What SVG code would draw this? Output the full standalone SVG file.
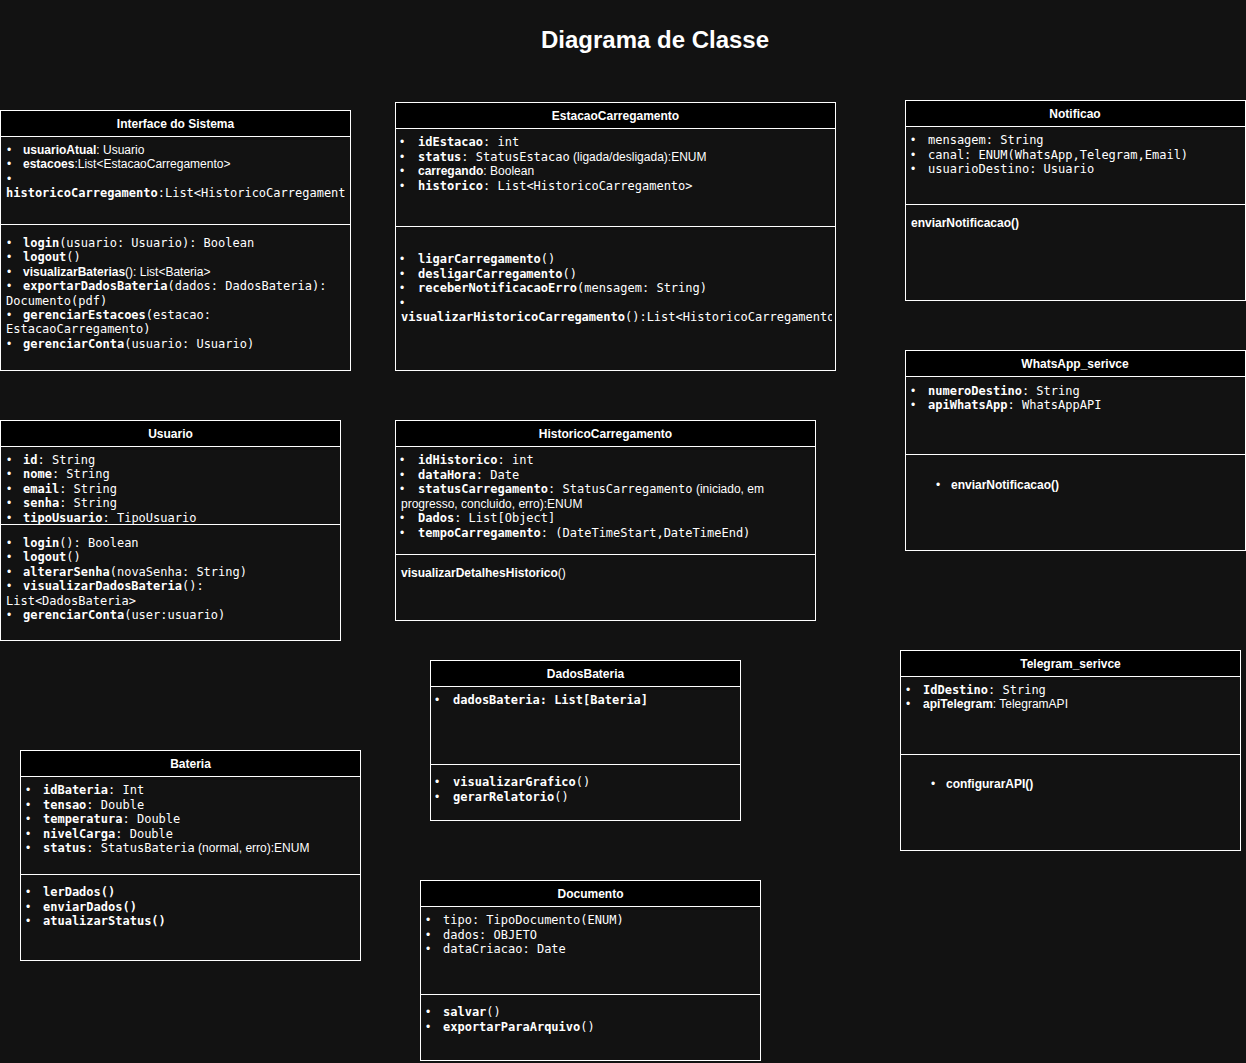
<svg xmlns="http://www.w3.org/2000/svg" width="1246" height="1063" viewBox="0 0 1246 1063">
<style>
.bg{fill:#121212}
.box{fill:#121212;stroke:#ffffff;stroke-width:1}
.hdr{fill:#000000;stroke:#ffffff;stroke-width:1}
.ln{stroke:#ffffff;stroke-width:1}
text{font-family:"Liberation Sans",Arial,sans-serif;font-size:12px;fill:#ffffff}
.m{font-family:"DejaVu Sans Mono","Liberation Mono",monospace}
.b{font-weight:bold}
.h{font-weight:bold;text-anchor:middle}
.title{font-size:24px;font-weight:bold;text-anchor:middle}
</style>
<defs>
<clipPath id="clipIface"><rect x="1" y="136" width="344" height="87"/></clipPath>
<clipPath id="clipEst"><rect x="396" y="226" width="436" height="143"/></clipPath>
</defs>
<rect class="bg" x="0" y="0" width="1246" height="1063"/>
<text class="title" x="655" y="48">Diagrama de Classe</text>

<g id="connectors"></g>

<g id="interface-do-sistema">
<rect class="box" x="0.5" y="110.5" width="350" height="260"/>
<rect class="hdr" x="0.5" y="110.5" width="350" height="26"/>
<line class="ln" x1="0.5" y1="224.5" x2="350.5" y2="224.5"/>
<text class="h" x="175.5" y="127.5">Interface do Sistema</text>
<g transform="translate(0,1)">
<text x="7" y="153">•</text><text x="23" y="153"><tspan class="b">usuarioAtual</tspan>: Usuario</text>
<text x="7" y="167.4">•</text><text x="23" y="167.4"><tspan class="b">estacoes</tspan>:List&lt;EstacaoCarregamento&gt;</text>
<text x="7" y="181.8">•</text>
<g clip-path="url(#clipIface)"><text class="m" x="6" y="196.2"><tspan class="b">historicoCarregamento</tspan>:List&lt;HistoricoCarregamento&gt;</text></g>
<text x="7" y="246">•</text><text class="m" x="23" y="246"><tspan class="b">login</tspan>(usuario: Usuario): Boolean</text>
<text x="7" y="260.4">•</text><text class="m" x="23" y="260.4"><tspan class="b">logout</tspan>()</text>
<text x="7" y="274.8">•</text><text x="23" y="274.8"><tspan class="b">visualizarBaterias</tspan>(): List&lt;Bateria&gt;</text>
<text x="7" y="289.2">•</text><text class="m" x="23" y="289.2"><tspan class="b">exportarDadosBateria</tspan>(dados: DadosBateria):</text>
<text class="m" x="6" y="303.6">Documento(pdf)</text>
<text x="7" y="318">•</text><text class="m" x="23" y="318"><tspan class="b">gerenciarEstacoes</tspan>(estacao:</text>
<text class="m" x="6" y="332.4">EstacaoCarregamento)</text>
<text x="7" y="346.8">•</text><text class="m" x="23" y="346.8"><tspan class="b">gerenciarConta</tspan>(usuario: Usuario)</text>
</g>
</g>

<g id="estacao-carregamento">
<rect class="box" x="395.5" y="102.5" width="440" height="268"/>
<rect class="hdr" x="395.5" y="102.5" width="440" height="26"/>
<line class="ln" x1="395.5" y1="226.5" x2="835.5" y2="226.5"/>
<text class="h" x="615.5" y="119.5">EstacaoCarregamento</text>
<g transform="translate(0,1)">
<text x="400" y="145">•</text><text class="m" x="418" y="145"><tspan class="b">idEstacao</tspan>: int</text>
<text x="400" y="159.6">•</text><text x="418" y="159.6"><tspan class="m b">status</tspan><tspan class="m">: StatusEstacao</tspan> (ligada/desligada):ENUM</text>
<text x="400" y="174.2">•</text><text x="418" y="174.2"><tspan class="b">carregando</tspan>: Boolean</text>
<text x="400" y="188.8">•</text><text class="m" x="418" y="188.8"><tspan class="b">historico</tspan>: List&lt;HistoricoCarregamento&gt;</text>
<text x="400" y="262">•</text><text class="m" x="418" y="262"><tspan class="b">ligarCarregamento</tspan>()</text>
<text x="400" y="276.5">•</text><text class="m" x="418" y="276.5"><tspan class="b">desligarCarregamento</tspan>()</text>
<text x="400" y="291">•</text><text class="m" x="418" y="291"><tspan class="b">receberNotificacaoErro</tspan>(mensagem: String)</text>
<text x="400" y="305.5">•</text>
<g clip-path="url(#clipEst)"><text class="m" x="401" y="320"><tspan class="b">visualizarHistoricoCarregamento</tspan>():List&lt;HistoricoCarregamento&gt;</text></g>
</g>
</g>

<g id="notificacao">
<rect class="box" x="905.5" y="100.5" width="340" height="200"/>
<rect class="hdr" x="905.5" y="100.5" width="340" height="26"/>
<line class="ln" x1="905.5" y1="204.5" x2="1245.5" y2="204.5"/>
<text class="h" x="1075" y="117.5">Notificao</text>
<g transform="translate(0,1)">
<text x="911" y="143">•</text><text class="m" x="928" y="143">mensagem: String</text>
<text x="911" y="157.5">•</text><text class="m" x="928" y="157.5">canal: ENUM(WhatsApp,Telegram,Email)</text>
<text x="911" y="172">•</text><text class="m" x="928" y="172">usuarioDestino: Usuario</text>
<text class="b" x="911" y="226">enviarNotificacao()</text>
</g>
</g>

<g id="whatsapp-service">
<rect class="box" x="905.5" y="350.5" width="340" height="200"/>
<rect class="hdr" x="905.5" y="350.5" width="340" height="26"/>
<line class="ln" x1="905.5" y1="454.5" x2="1245.5" y2="454.5"/>
<text class="h" x="1075" y="367.5">WhatsApp_serivce</text>
<g transform="translate(0,1)">
<text x="911" y="394">•</text><text class="m" x="928" y="394"><tspan class="b">numeroDestino</tspan>: String</text>
<text x="911" y="408">•</text><text class="m" x="928" y="408"><tspan class="b">apiWhatsApp</tspan>: WhatsAppAPI</text>
<text x="936" y="488">•</text><text class="b" x="951" y="488">enviarNotificacao()</text>
</g>
</g>

<g id="usuario">
<rect class="box" x="0.5" y="420.5" width="340" height="220"/>
<rect class="hdr" x="0.5" y="420.5" width="340" height="26"/>
<text class="h" x="170.5" y="437.5">Usuario</text>
<g transform="translate(0,1)">
<text x="7" y="463">•</text><text class="m" x="23" y="463"><tspan class="b">id</tspan>: String</text>
<text x="7" y="477.4">•</text><text class="m" x="23" y="477.4"><tspan class="b">nome</tspan>: String</text>
<text x="7" y="491.8">•</text><text class="m" x="23" y="491.8"><tspan class="b">email</tspan>: String</text>
<text x="7" y="506.2">•</text><text class="m" x="23" y="506.2"><tspan class="b">senha</tspan>: String</text>
<text x="7" y="520.6">•</text><text class="m" x="23" y="520.6"><tspan class="b">tipoUsuario</tspan>: TipoUsuario</text>
</g>
<rect class="bg" x="1" y="525" width="339" height="4"/>
<line class="ln" x1="0.5" y1="524.5" x2="340.5" y2="524.5"/>
<g transform="translate(0,1)">
<text x="7" y="546">•</text><text class="m" x="23" y="546"><tspan class="b">login</tspan>(): Boolean</text>
<text x="7" y="560.4">•</text><text class="m" x="23" y="560.4"><tspan class="b">logout</tspan>()</text>
<text x="7" y="574.8">•</text><text class="m" x="23" y="574.8"><tspan class="b">alterarSenha</tspan>(novaSenha: String)</text>
<text x="7" y="589.2">•</text><text class="m" x="23" y="589.2"><tspan class="b">visualizarDadosBateria</tspan>():</text>
<text class="m" x="6" y="603.6">List&lt;DadosBateria&gt;</text>
<text x="7" y="618">•</text><text class="m" x="23" y="618"><tspan class="b">gerenciarConta</tspan>(user:usuario)</text>
</g>
</g>

<g id="historico-carregamento">
<rect class="box" x="395.5" y="420.5" width="420" height="200"/>
<rect class="hdr" x="395.5" y="420.5" width="420" height="26"/>
<line class="ln" x1="395.5" y1="554.5" x2="815.5" y2="554.5"/>
<text class="h" x="605.5" y="437.5">HistoricoCarregamento</text>
<g transform="translate(0,1)">
<text x="400" y="463">•</text><text class="m" x="418" y="463"><tspan class="b">idHistorico</tspan>: int</text>
<text x="400" y="477.5">•</text><text class="m" x="418" y="477.5"><tspan class="b">dataHora</tspan>: Date</text>
<text x="400" y="492">•</text><text x="418" y="492"><tspan class="m b">statusCarregamento</tspan><tspan class="m">: StatusCarregamento</tspan> (iniciado, em</text>
<text x="401" y="506.5">progresso, concluido, erro):ENUM</text>
<text x="400" y="521">•</text><text class="m" x="418" y="521"><tspan class="b">Dados</tspan>: List[Object]</text>
<text x="400" y="535.5">•</text><text class="m" x="418" y="535.5"><tspan class="b">tempoCarregamento</tspan>: (DateTimeStart,DateTimeEnd)</text>
<text x="401" y="576"><tspan class="b">visualizarDetalhesHistorico</tspan>()</text>
</g>
</g>

<g id="dados-bateria">
<rect class="box" x="430.5" y="660.5" width="310" height="160"/>
<rect class="hdr" x="430.5" y="660.5" width="310" height="26"/>
<line class="ln" x1="430.5" y1="764.5" x2="740.5" y2="764.5"/>
<text class="h" x="585.5" y="677.5">DadosBateria</text>
<g transform="translate(0,1)">
<text x="435" y="703">•</text><text class="m b" x="453" y="703">dadosBateria: List[Bateria]</text>
<text x="435" y="785">•</text><text class="m" x="453" y="785"><tspan class="b">visualizarGrafico</tspan>()</text>
<text x="435" y="799.5">•</text><text class="m" x="453" y="799.5"><tspan class="b">gerarRelatorio</tspan>()</text>
</g>
</g>

<g id="documento">
<rect class="box" x="420.5" y="880.5" width="340" height="180"/>
<rect class="hdr" x="420.5" y="880.5" width="340" height="26"/>
<line class="ln" x1="420.5" y1="994.5" x2="760.5" y2="994.5"/>
<text class="h" x="590.5" y="897.5">Documento</text>
<g transform="translate(0,1)">
<text x="426" y="923">•</text><text class="m" x="443" y="923">tipo: TipoDocumento(ENUM)</text>
<text x="426" y="937.5">•</text><text class="m" x="443" y="937.5">dados: OBJETO</text>
<text x="426" y="952">•</text><text class="m" x="443" y="952">dataCriacao: Date</text>
<text x="426" y="1015">•</text><text class="m" x="443" y="1015"><tspan class="b">salvar</tspan>()</text>
<text x="426" y="1029.5">•</text><text class="m" x="443" y="1029.5"><tspan class="b">exportarParaArquivo</tspan>()</text>
</g>
</g>

<g id="bateria">
<rect class="box" x="20.5" y="750.5" width="340" height="210"/>
<rect class="hdr" x="20.5" y="750.5" width="340" height="26"/>
<line class="ln" x1="20.5" y1="874.5" x2="360.5" y2="874.5"/>
<text class="h" x="190.5" y="767.5">Bateria</text>
<g transform="translate(0,1)">
<text x="26" y="793">•</text><text class="m" x="43" y="793"><tspan class="b">idBateria</tspan>: Int</text>
<text x="26" y="807.5">•</text><text class="m" x="43" y="807.5"><tspan class="b">tensao</tspan>: Double</text>
<text x="26" y="822">•</text><text class="m" x="43" y="822"><tspan class="b">temperatura</tspan>: Double</text>
<text x="26" y="836.5">•</text><text class="m" x="43" y="836.5"><tspan class="b">nivelCarga</tspan>: Double</text>
<text x="26" y="851">•</text><text x="43" y="851"><tspan class="m b">status</tspan><tspan class="m">: StatusBateria</tspan> (normal, erro):ENUM</text>
<text x="26" y="895">•</text><text class="m b" x="43" y="895">lerDados()</text>
<text x="26" y="909.5">•</text><text class="m b" x="43" y="909.5">enviarDados()</text>
<text x="26" y="924">•</text><text class="m b" x="43" y="924">atualizarStatus()</text>
</g>
</g>

<g id="telegram-service">
<rect class="box" x="900.5" y="650.5" width="340" height="200"/>
<rect class="hdr" x="900.5" y="650.5" width="340" height="26"/>
<line class="ln" x1="900.5" y1="754.5" x2="1240.5" y2="754.5"/>
<text class="h" x="1070.5" y="667.5">Telegram_serivce</text>
<g transform="translate(0,1)">
<text x="906" y="693">•</text><text class="m" x="923" y="693"><tspan class="b">IdDestino</tspan>: String</text>
<text x="906" y="707">•</text><text x="923" y="707"><tspan class="b">apiTelegram</tspan>: TelegramAPI</text>
<text x="931" y="787">•</text><text class="b" x="946" y="787">configurarAPI()</text>
</g>
</g>
</svg>
